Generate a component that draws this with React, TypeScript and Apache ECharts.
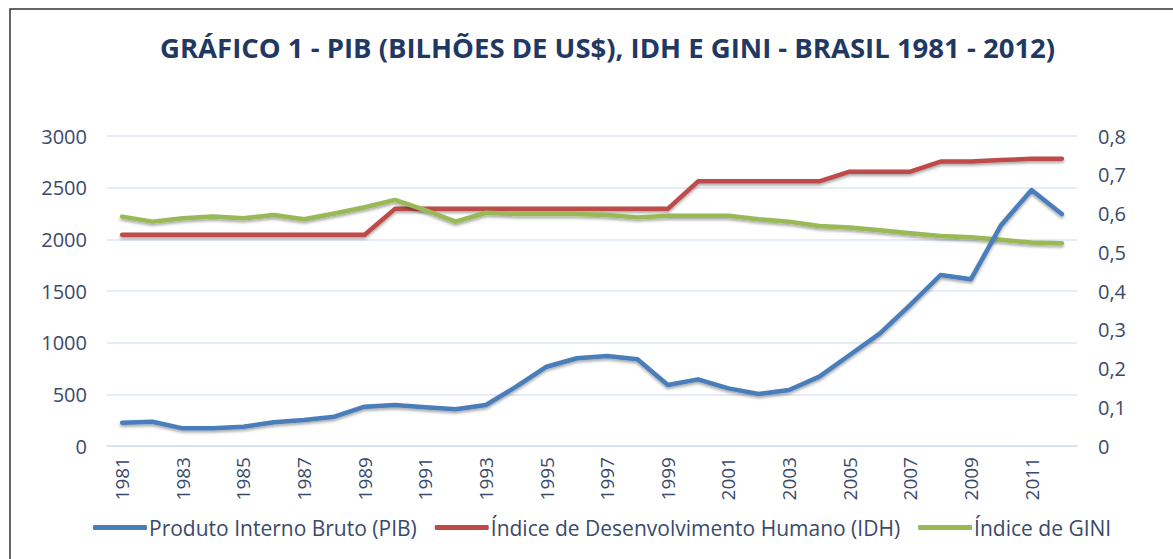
import React, { useEffect, useRef } from "react";
import * as echarts from "echarts";

const years = [
  "1981","1982","1983","1984","1985","1986","1987","1988","1989","1990",
  "1991","1992","1993","1994","1995","1996","1997","1998","1999","2000",
  "2001","2002","2003","2004","2005","2006","2007","2008","2009","2010",
  "2011","2012",
];

const pib = [
  225, 235, 171, 171, 187, 229, 252, 284, 381, 397,
  374, 355, 397, 574, 767, 849, 871, 839, 590, 645,
  558, 503, 542, 671, 881, 1090, 1365, 1655, 1613, 2139,
  2477, 2245,
];

const idh = [
  0.545, 0.545, 0.545, 0.545, 0.545, 0.545, 0.545, 0.545, 0.545, 0.612,
  0.612, 0.612, 0.612, 0.612, 0.612, 0.612, 0.612, 0.612, 0.612, 0.683,
  0.683, 0.683, 0.683, 0.683, 0.708, 0.708, 0.708, 0.734, 0.734, 0.738,
  0.741, 0.741,
];

const gini = [
  0.592, 0.579, 0.588, 0.592, 0.588, 0.596, 0.585, 0.600, 0.616, 0.635,
  0.609, 0.579, 0.602, 0.599, 0.599, 0.599, 0.596, 0.590, 0.594, 0.594,
  0.594, 0.585, 0.579, 0.568, 0.564, 0.557, 0.549, 0.542, 0.539, 0.532,
  0.525, 0.523,
];

const seriesNames = [
  "Produto Interno Bruto (PIB)",
  "Índice de Desenvolvimento Humano (IDH)",
  "Índice de GINI",
];
const titleText = "GRÁFICO 1 - PIB (BILHÕES DE US$), IDH E GINI - BRASIL 1981 - 2012)";

const FONT = "'Open Sans', sans-serif";
const TEXT_COLOR = "#3a4a6b";

export default function App() {
  const ref = useRef<HTMLDivElement>(null);

  useEffect(() => {
    if (!ref.current) return;
    const chart = echarts.init(ref.current, undefined, { renderer: "svg" });
    const shadow = {
      shadowColor: "rgba(0,0,0,0.35)",
      shadowBlur: 3,
      shadowOffsetY: 2,
    };
    chart.setOption({
      animation: false,
      backgroundColor: "#ffffff",
      textStyle: { fontFamily: FONT },
      title: {
        text: titleText,
        left: 155,
        top: 28,
        textStyle: {
          fontFamily: FONT,
          fontSize: 27.5,
          fontWeight: "bold",
          color: "#1f3864",
        },
      },
      graphic: [
        {
          type: "rect",
          shape: { x: 10, y: 9, width: 1175, height: 570 },
          style: { fill: "none", stroke: "#333333", lineWidth: 1.5 },
          silent: true,
        },
      ],
      legend: {
        bottom: 16,
        left: 88,
        icon: "roundRect",
        itemWidth: 54,
        itemHeight: 5,
        itemGap: 18,
        textStyle: { fontFamily: FONT, fontSize: 21, color: TEXT_COLOR, padding: [0, 0, 0, -3] },
        data: seriesNames,
      },
      grid: { left: 107, right: 96, top: 136, bottom: 113, containLabel: false },
      xAxis: {
        type: "category",
        data: years,
        boundaryGap: true,
        axisLine: { lineStyle: { color: "#d4dff0", width: 1.5 } },
        axisTick: { interval: 1, length: 6, lineStyle: { color: "#d4dff0", width: 1.5 } },
        axisLabel: {
          interval: 1,
          rotate: 90,
          fontFamily: FONT,
          fontSize: 19,
          color: TEXT_COLOR,
          margin: 11,
        },
      },
      yAxis: [
        {
          type: "value",
          min: 0,
          max: 3000,
          interval: 500,
          axisLine: { show: false },
          axisTick: { show: false },
          splitLine: { lineStyle: { color: "#dce6f4", width: 1.5 } },
          axisLabel: {
            fontFamily: FONT,
            fontSize: 20,
            color: TEXT_COLOR,
            margin: 20,
            formatter: (v: number) => String(v),
          },
        },
        {
          type: "value",
          min: 0,
          max: 0.8,
          interval: 0.1,
          axisLine: { show: false },
          axisTick: { show: false },
          splitLine: { show: false },
          axisLabel: {
            fontFamily: FONT,
            fontSize: 20,
            color: TEXT_COLOR,
            margin: 21,
            formatter: (v: number) => (v === 0 ? "0" : v.toFixed(1).replace(".", ",")),
          },
        },
      ],
      series: [
        {
          name: seriesNames[0],
          type: "line",
          data: pib,
          yAxisIndex: 0,
          symbol: "none",
          lineStyle: { color: "#4a7ebb", width: 4.5, cap: "round", join: "round", ...shadow },
          itemStyle: { color: "#4a7ebb" },
          z: 4,
        },
        {
          name: seriesNames[1],
          type: "line",
          data: idh,
          yAxisIndex: 1,
          symbol: "none",
          lineStyle: { color: "#be4b48", width: 4.5, cap: "round", join: "round", ...shadow },
          itemStyle: { color: "#be4b48" },
          z: 2,
        },
        {
          name: seriesNames[2],
          type: "line",
          data: gini,
          yAxisIndex: 1,
          symbol: "none",
          lineStyle: { color: "#98b954", width: 4.5, cap: "round", join: "round", ...shadow },
          itemStyle: { color: "#98b954" },
          z: 3,
        },
      ],
    });
    return () => chart.dispose();
  }, []);

  return (
    <div
      ref={ref}
      style={{ position: "fixed", left: 0, top: 0, width: 1173, height: 559 }}
    />
  );
}
